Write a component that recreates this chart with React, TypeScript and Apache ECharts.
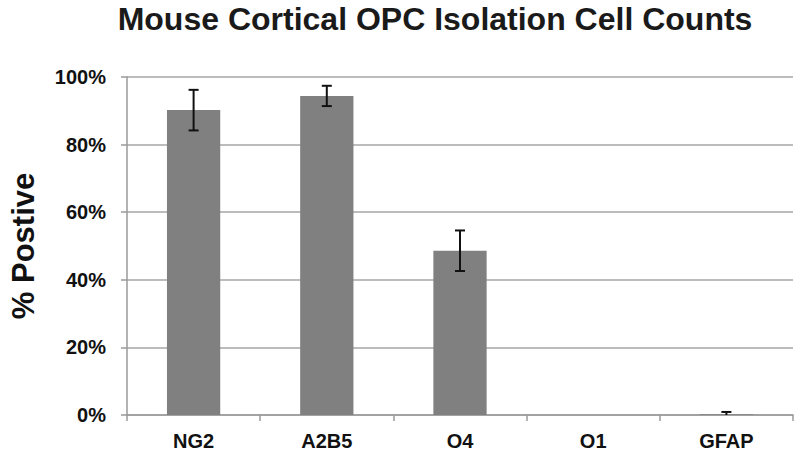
import React, { useEffect, useRef } from "react";
import * as echarts from "echarts";

const categories = ["NG2", "A2B5", "O4", "O1", "GFAP"];
const values = [90.2, 94.4, 48.6, 0, 0.2];
const errors = [6, 3, 6, 0, 0.7];
const yTicks = [0, 20, 40, 60, 80, 100];

export default function App() {
  const ref = useRef<HTMLDivElement>(null);
  useEffect(() => {
    const chart = echarts.init(ref.current!, null, { renderer: "svg" });
    const font = "'Liberation Sans', Arial, sans-serif";
    chart.setOption({
      animation: false,
      backgroundColor: "#fff",
      title: {
        text: "Mouse Cortical OPC Isolation Cell Counts",
        left: 430,
        textAlign: "center",
        top: -2,
        textStyle: { fontFamily: font, fontWeight: "bold", fontSize: 32, color: "#1a1a1a" },
      },
      grid: { left: 120, right: 7, top: 77, bottom: 37 },
      xAxis: {
        type: "category",
        data: categories,
        axisLine: { lineStyle: { color: "#9a9a9a", width: 1.5 } },
        axisTick: { show: true, length: 6, lineStyle: { color: "#9a9a9a", width: 1.5 } },
        axisLabel: { fontFamily: font, fontWeight: "bold", fontSize: 20, color: "#111", margin: 16 },
      },
      yAxis: {
        type: "value",
        min: 0,
        max: 100,
        interval: 20,
        name: "% Postive",
        nameLocation: "middle",
        nameGap: 88,
        nameTextStyle: { fontFamily: font, fontWeight: "bold", fontSize: 31, color: "#111" },
        axisLine: { show: true, lineStyle: { color: "#9a9a9a", width: 1.5 } },
        axisTick: { show: true, length: 6, lineStyle: { color: "#9a9a9a", width: 1.5 } },
        splitLine: { lineStyle: { color: "#a6a6a6", width: 1.5 } },
        axisLabel: {
          fontFamily: font,
          fontWeight: "bold",
          fontSize: 20,
          color: "#111",
          margin: 21,
          formatter: (v: number) => (yTicks.includes(v) ? v + "%" : ""),
        },
      },
      series: [
        {
          type: "bar",
          data: values,
          barWidth: "40%",
          itemStyle: { color: "#808080" },
        },
        {
          type: "custom",
          data: values.map((v, i) => [i, v - errors[i], v + errors[i]]),
          z: 10,
          renderItem: (params: any, api: any) => {
            const x = api.value(0);
            const loVal = Math.max(0, api.value(1));
            const lo = api.coord([x, loVal]);
            const hi = api.coord([x, api.value(2)]);
            const cap = 5;
            const style = { stroke: "#111", lineWidth: 2 };
            if (Math.abs(hi[1] - lo[1]) < 0.01) return null;
            const children: any[] = [
              { type: "line", shape: { x1: lo[0], y1: lo[1], x2: hi[0], y2: hi[1] }, style },
              { type: "line", shape: { x1: hi[0] - cap, y1: hi[1], x2: hi[0] + cap, y2: hi[1] }, style },
            ];
            if (api.value(1) > 0) {
              children.push({ type: "line", shape: { x1: lo[0] - cap, y1: lo[1], x2: lo[0] + cap, y2: lo[1] }, style });
            }
            return { type: "group", children };
          },
        },
      ],
    });
    return () => chart.dispose();
  }, []);
  return (
    <div
      ref={ref}
      style={{ position: "fixed", left: 0, top: 0, width: 800, height: 452 }}
    />
  );
}
